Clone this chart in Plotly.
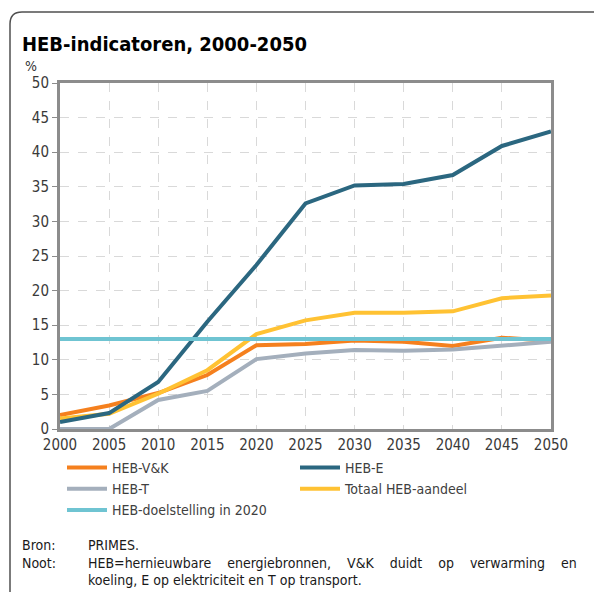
import plotly.graph_objects as go

years = [2000, 2005, 2010, 2015, 2020, 2025, 2030, 2035, 2040, 2045, 2050]
heb_vk = [2.0, 3.4, 5.2, 7.8, 12.1, 12.3, 12.8, 12.6, 12.0, 13.2, 12.7]
heb_e = [1.0, 2.3, 6.8, 15.5, 23.7, 32.6, 35.2, 35.4, 36.7, 40.9, 43.0]
heb_t = [0.0, 0.0, 4.2, 5.5, 10.1, 10.9, 11.4, 11.3, 11.5, 12.1, 12.6]
totaal = [1.5, 2.2, 5.1, 8.5, 13.7, 15.7, 16.8, 16.8, 17.0, 18.9, 19.3]
doel = [13.0] * len(years)

series = [
    ("HEB-V&K", heb_vk, "#F5801E"),
    ("HEB-E", heb_e, "#2B6780"),
    ("HEB-T", heb_t, "#A4AFBC"),
    ("Totaal HEB-aandeel", totaal, "#FFC233"),
    ("HEB-doelstelling in 2020", doel, "#6FC4D2"),
]

FONT = "DejaVu Sans Condensed, Liberation Sans, sans-serif"
W, H = 596, 592
L, R, T, B = 60, 45, 83, 163
pw, ph = W - L - R, H - T - B

def px(x):
    return (x - L) / pw

def py(y):
    return (H - B - y) / ph

fig = go.Figure()
order = [0, 2, 3, 1, 4]
for i in order:
    name, vals, col = series[i]
    fig.add_trace(go.Scatter(x=years, y=vals, mode="lines", name=name,
                             line=dict(color=col, width=4), legendrank=i + 1))

fig.update_layout(
    width=W, height=H,
    margin=dict(l=L, r=R, t=T, b=B),
    paper_bgcolor="white", plot_bgcolor="white",
    font=dict(family=FONT, color="#404040", size=14),
    showlegend=True,
    legend=dict(orientation="h", x=px(62), y=py(452), xanchor="left", yanchor="top",
                entrywidth=178, entrywidthmode="pixels", traceorder="normal",
                font=dict(size=14, color="#404040"), tracegroupgap=0,
                itemwidth=40),
    xaxis=dict(range=[2000, 2050], tickvals=years, ticks="", showgrid=True,
               gridcolor="#D9D9D9", griddash="dash", gridwidth=1,
               showline=True, linecolor="#8C8C8C", linewidth=3, mirror=True,
               tickfont=dict(size=15, color="#3a3a3a"), zeroline=False, fixedrange=True),
    yaxis=dict(range=[0, 50], tickvals=list(range(0, 51, 5)), ticks="outside", ticklen=5,
               tickcolor="#8C8C8C", tickwidth=1, showgrid=True,
               gridcolor="#D9D9D9", griddash="dash", gridwidth=1,
               showline=True, linecolor="#8C8C8C", linewidth=3, mirror=True,
               tickfont=dict(size=15, color="#3a3a3a"), zeroline=False, fixedrange=True),
)

xl, xr = px(10), px(594)
yt, yb = py(12), py(600)
rx, ry = 12 / pw, 12 / ph
fig.add_shape(type="path", xref="paper", yref="paper",
              path=f"M {xl},{yb} L {xl},{yt-ry} Q {xl},{yt} {xl+rx},{yt} L {xr},{yt}",
              line=dict(color="#505050", width=1.5))

def ann(text, x, y, size=14, bold=False, color="#1a1a1a"):
    fig.add_annotation(text=f"<b>{text}</b>" if bold else text, xref="paper", yref="paper",
                       x=px(x), y=py(y), xanchor="left", yanchor="middle", showarrow=False,
                       font=dict(size=size, color=color, family=FONT))

note1 = "HEB=hernieuwbare energiebronnen, V&K duidt op verwarming en"
note1_just = note1.replace(" ", "&nbsp;&nbsp;&nbsp;&nbsp;")

ann("HEB-indicatoren, 2000-2050", 20, 44, size=20, bold=True, color="#000000")
ann("%", 23, 66, size=14, color="#333333")
ann("Bron:", 20, 545, size=14)
ann("PRIMES.", 86, 545, size=14)
ann("Noot:", 20, 563, size=14)
ann(note1_just, 86, 563, size=14)
ann("koeling, E op elektriciteit en T op transport.", 86, 580, size=14)

fig.write_html("out.html", config={"displayModeBar": False},
               post_script="document.body.style.margin='0';document.body.style.padding='0';")
